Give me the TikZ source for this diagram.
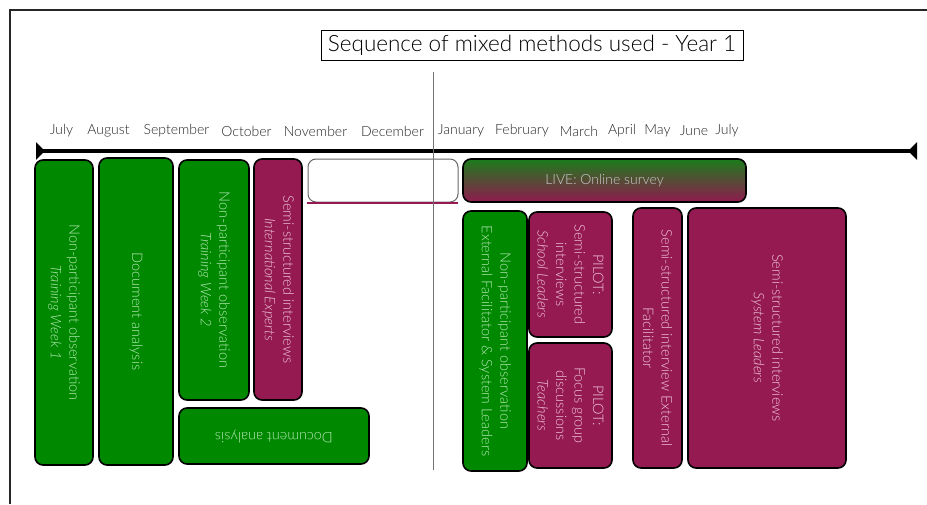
\documentclass[tikz,border=0pt]{standalone}
\usepackage{fontspec}
\setmainfont{Lato}[UprightFont=* Light, ItalicFont=* Light Italic, BoldFont=* Regular]
\usetikzlibrary{arrows.meta}
\definecolor{gfill}{HTML}{008800}
\definecolor{pfill}{HTML}{951A52}
\definecolor{gtext}{HTML}{B4E8B4}
\definecolor{ptext}{HTML}{F0C4DA}
\definecolor{gtop}{HTML}{1C7C1C}
\definecolor{pbot}{HTML}{901A50}
\tikzset{
  box/.style={draw=black, line width=1.6pt, rounded corners=8pt, inner sep=1pt, align=center,
              font=\fontsize{14.5}{18.5}\selectfont},
  gbox/.style={box, fill=gfill, text=gtext},
  pbox/.style={box, fill=pfill, text=ptext},
  month/.style={font=\fontsize{14}{16}\selectfont, text=black!85, inner sep=0pt},
}
\begin{document}
\begin{tikzpicture}[x=1pt,y=-1pt]
\useasboundingbox (0,0) rectangle (927,504);
% frame
\coordinate (f1) at (10,504);
\coordinate (f2) at (10,10);
\coordinate (f3) at (927,10);
\draw[line width=1.4pt, black!85] (f1) -- (f2) -- (f3);
% title
\node[draw, line width=0.8pt, minimum width=422pt, minimum height=30pt, inner sep=0pt,
      font=\fontsize{22.5}{24}\selectfont] (title) at (532,45) {Sequence of mixed methods used - Year 1};
% months
\foreach \m/\x [count=\i] in {July/61.5, August/108.5, September/176.5, October/246.5,
  November/315.5, December/392.5, January/461, February/522, March/579, April/622,
  May/657.5, June/694, July/727}
  \node[month] (m\i) at (\x,131) {\m};
% timeline
\coordinate (tl) at (36,151);
\coordinate (tr) at (917,151);
\draw[line width=4pt, {Triangle[reversed, width=17pt, length=9pt]}-{Triangle[reversed, width=17pt, length=9pt]}] (tl) -- (tr);
% left half boxes
\node[gbox, rotate=-90, minimum width=305pt, minimum height=58pt] (A) at (64,312.5)
  {Non-participant observation\\ \textit{Training Week 1}};
\node[gbox, rotate=-90, minimum width=307pt, minimum height=74pt] (B) at (136,311.5)
  {Document analysis};
\node[gbox, rotate=-90, minimum width=240pt, minimum height=70pt] (C) at (214,280)
  {Non-participant observation\\ \textit{Training Week 2}};
\node[pbox, rotate=-90, minimum width=241pt, minimum height=48pt] (D) at (278,279.5)
  {Semi-structured interviews\\ \textit{International Experts}};
\node[gbox, rotate=180, minimum width=190pt, minimum height=56pt] (F) at (274,436)
  {Document analysis};
\node[draw=black!60, line width=1pt, rounded corners=8pt, fill=white,
      minimum width=150pt, minimum height=43pt] (E) at (383,180.5) {};
\coordinate (e1) at (307,203);
\coordinate (e2) at (458,203);
\draw[pfill, line width=1.2pt] (e1) -- (e2);
% divider
\coordinate (d1) at (433,72);
\coordinate (d2) at (433,470);
\draw[black!55, line width=1pt] (d1) -- (d2);
% right half boxes
\node[draw=black, line width=1.6pt, rounded corners=8pt, top color=gtop, bottom color=pbot,
      text=black!20, minimum width=283pt, minimum height=43pt,
      font=\fontsize{14}{16}\selectfont] (L) at (604.5,180.5) {LIVE: Online survey};
\node[gbox, rotate=-90, minimum width=260pt, minimum height=64pt] (G) at (495,341)
  {Non-participant observation\\ External Facilitator \& System Leaders};
\node[pbox, rotate=-90, minimum width=125pt, minimum height=83pt] (H) at (570.5,274.5)
  {PILOT:\\ Semi-structured\\ interviews\\ \textit{School Leaders}};
\node[pbox, rotate=-90, minimum width=125pt, minimum height=83pt] (I) at (570.5,405.5)
  {PILOT:\\ Focus group\\ discussions\\ \textit{Teachers}};
\node[pbox, rotate=-90, minimum width=260pt, minimum height=49pt] (J) at (657.5,338)
  {Semi-structured interview External\\ Facilitator};
\node[pbox, rotate=-90, minimum width=260pt, minimum height=158pt] (K) at (767,338)
  {Semi-structured interviews\\ \textit{System Leaders}};
\end{tikzpicture}
\end{document}
